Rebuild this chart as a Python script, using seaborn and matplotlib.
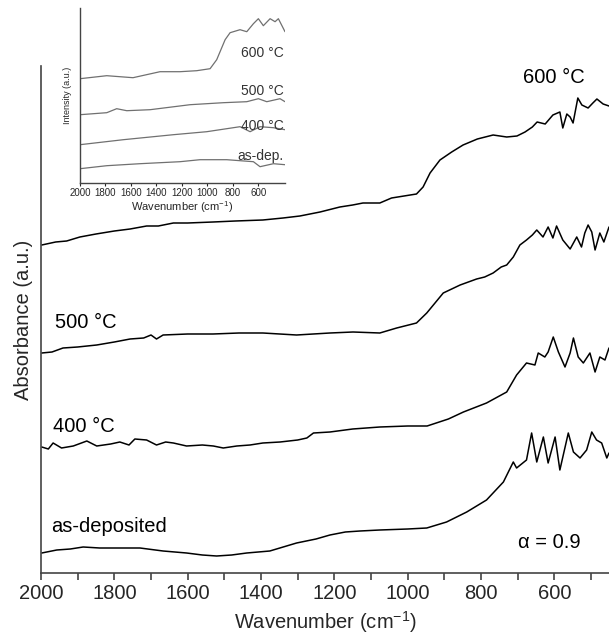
import matplotlib
matplotlib.use("Agg")
import matplotlib.pyplot as plt
import seaborn as sns
import pandas as pd
from matplotlib.ticker import MultipleLocator

# ---------------- main panel data (wavenumber cm^-1, absorbance a.u.) ----------------
wn_600 = [1998, 1960, 1930, 1894, 1850, 1800, 1757, 1712, 1680, 1639, 1600, 1531, 1470,
          1395, 1340, 1294, 1239, 1185, 1150, 1122, 1076, 1044,
          976, 958, 939, 912, 880, 849, 810, 767, 730, 702, 680, 660, 647, 625, 604, 585,
          577, 566, 557, 549, 536, 525, 508, 495, 484, 467, 451]
ab_600 = [328, 331, 332, 336, 339, 342, 344, 347, 347, 350, 350, 351, 352,
          353, 355, 357, 361, 366, 368, 370, 370, 375,
          379, 386, 400, 413, 421, 428, 434, 438, 436, 437, 441, 446, 451, 449, 458, 461,
          445, 459, 456, 450, 475, 468, 465, 470, 474, 469, 467]

wn_500 = [1998, 1970, 1940, 1900, 1848, 1800, 1757, 1720, 1700, 1685, 1667, 1600, 1531,
          1460, 1395, 1303, 1212, 1149, 1076, 1030, 976,
          948, 903, 857, 812, 790, 767, 745, 730, 712, 694, 676, 660, 648, 631, 617, 604,
          594, 577, 557, 539, 526, 517, 508, 498, 489, 476, 465, 451]
ab_500 = [220, 221, 225, 226, 228, 231, 234, 235, 238, 234, 238, 239, 239,
          240, 240, 238, 240, 241, 240, 245, 250,
          260, 280, 288, 294, 296, 300, 306, 308, 316, 328, 333, 338, 343, 336, 346, 335,
          347, 333, 324, 336, 326, 340, 348, 341, 323, 340, 331, 346]

wn_400 = [1998, 1980, 1967, 1944, 1912, 1875, 1848, 1810, 1785, 1760, 1744, 1712, 1685,
          1660, 1639, 1603, 1560, 1530, 1503, 1466, 1430, 1395, 1348, 1300, 1275, 1257,
          1212, 1150, 1076, 1000, 947, 889, 848, 785, 730, 703,
          676, 653, 644, 626, 617, 603, 589, 571, 557, 548, 535, 521, 503, 489, 476, 462, 451]
ab_400 = [126, 124, 130, 125, 127, 132, 127, 129, 131, 128, 134, 133, 128,
          131, 130, 127, 128, 127, 125, 127, 128, 130, 131, 133, 135, 140,
          141, 144, 146, 147, 147, 154, 161, 170, 181, 198,
          210, 208, 220, 216, 221, 236, 221, 206, 220, 235, 216, 210, 220, 201, 216, 213, 225]

wn_asdep = [1998, 1957, 1920, 1885, 1840, 1803, 1730, 1667, 1603, 1560, 1521, 1480, 1439,
            1376, 1303, 1250, 1212, 1170, 1130, 1076, 1000, 948, 894, 839, 785, 739, 712,
            703, 676, 662, 648, 630, 617, 598, 585,
            562, 548, 530, 512, 498, 485, 471, 457, 451]
ab_asdep = [20, 23, 24, 26, 25, 25, 25, 22, 20, 18, 17, 18, 20,
            22, 30, 34, 38, 41, 42, 43, 44, 45, 51, 61, 73, 91, 111,
            105, 113, 140, 111, 136, 110, 136, 103,
            140, 121, 115, 123, 141, 133, 130, 115, 120]

main_labels = ["600 \u00b0C", "500 \u00b0C", "400 \u00b0C", "as-deposited"]

# ---------------- inset data (wavenumber cm^-1, intensity a.u.) ----------------
iwn_600 = [2000, 1790, 1584, 1372, 1215, 1084, 979, 927, 861, 822, 744, 691, 639, 600,
           561, 508, 469, 443, 391]
iin_600 = [104, 107, 105, 111, 111, 112, 114, 123, 143, 150, 153, 151, 159, 164,
           157, 164, 161, 164, 151]
iwn_500 = [2000, 1790, 1712, 1633, 1450, 1136, 875, 691, 600, 534, 430, 391]
iin_500 = [68, 70, 74, 72, 73, 78, 80, 81, 84, 81, 84, 81]
iwn_400 = [2000, 1660, 1267, 1005, 744, 665, 587, 482, 391]
iin_400 = [38, 43, 48, 51, 56, 51, 56, 55, 53]
iwn_asdep = [2000, 1790, 1529, 1215, 1058, 848, 639, 587, 482, 391]
iin_asdep = [14, 17, 19, 21, 23, 23, 21, 16, 19, 18]

inset_labels = ["600 \u00b0C", "500 \u00b0C", "400 \u00b0C", "as-dep."]
inset_ticks = [2000, 1800, 1600, 1400, 1200, 1000, 800, 600]

# ---------------- style ----------------
sns.set_style("ticks")
plt.rcParams['font.family'] = ['Liberation Sans', 'DejaVu Sans']
plt.rcParams['mathtext.fontset'] = 'custom'
plt.rcParams['mathtext.rm'] = 'Liberation Sans'
plt.rcParams['mathtext.it'] = 'Liberation Sans:italic'
plt.rcParams['mathtext.default'] = 'regular'

W, H = 609, 637
fig = plt.figure(figsize=(W / 100, H / 100), dpi=100)

# main axes
ax = fig.add_axes([41 / W, 1 - 573 / H, 1 - 41 / W, (573 - 66) / H])
main = [(wn_600, ab_600), (wn_500, ab_500), (wn_400, ab_400), (wn_asdep, ab_asdep)]
for wn, ab in main:
    df = pd.DataFrame({"wn": wn, "ab": ab})
    sns.lineplot(data=df, x="wn", y="ab", ax=ax, color="black", lw=1.1,
                 sort=False, estimator=None)
ax.set_xlim(2000, 451)
ax.set_ylim(0, 507)
ax.set_yticks([])
ax.xaxis.set_major_locator(MultipleLocator(200))
ax.xaxis.set_minor_locator(MultipleLocator(100))
ax.tick_params(axis='x', which='both', direction='out', length=5, width=1.1,
               color='#333333', labelsize=14.5, pad=3)
for s in ['top', 'right']:
    ax.spines[s].set_visible(False)
for s in ['left', 'bottom']:
    ax.spines[s].set_color('#444444')
    ax.spines[s].set_linewidth(1.2)
ax.set_xlabel("Wavenumber (cm$^{-1}$)", fontsize=14.5, labelpad=4)
ax.set_ylabel("Absorbance (a.u.)", fontsize=14.5, labelpad=6)

label_pos = [(686, 490), (1962, 245), (1966, 141), (1973, 41)]
for (x, y), t in zip(label_pos, main_labels):
    ax.text(x, y, t, ha='left', va='baseline', fontsize=14.5, color='black')
ax.text(698, 25, "\u03b1 = 0.9", ha='left', va='baseline', fontsize=14.5, color='black')

# inset axes
axi = fig.add_axes([80 / W, 1 - 182.7 / H, 205 / W, (182.7 - 8.3) / H])
axi.set_facecolor('none')
inset = [(iwn_600, iin_600), (iwn_500, iin_500), (iwn_400, iin_400), (iwn_asdep, iin_asdep)]
for wn, it in inset:
    df = pd.DataFrame({"wn": wn, "it": it})
    sns.lineplot(data=df, x="wn", y="it", ax=axi, color="#707070", lw=0.9,
                 sort=False, estimator=None)
axi.set_xlim(2000, 391)
axi.set_ylim(0, 174.4)
axi.set_yticks([])
axi.set_xticks(inset_ticks)
axi.tick_params(axis='x', which='both', direction='out', length=2, width=0.8,
                labelsize=7, pad=1.5)
for s in ['top', 'right']:
    axi.spines[s].set_visible(False)
for s in ['left', 'bottom']:
    axi.spines[s].set_color('#444444')
    axi.spines[s].set_linewidth(1.0)
axi.set_xlabel("Wavenumber (cm$^{-1}$)", fontsize=8, labelpad=1)
axi.set_ylabel("Intensity (a.u.)", fontsize=6.5, labelpad=6)

ilabel_pos = [(404, 126), (404, 88), (404, 53), (404, 23)]
for (x, y), t in zip(ilabel_pos, inset_labels):
    axi.text(x, y, t, ha='right', va='baseline', fontsize=10, color='#333333')

fig.savefig("out.png", dpi=100)
